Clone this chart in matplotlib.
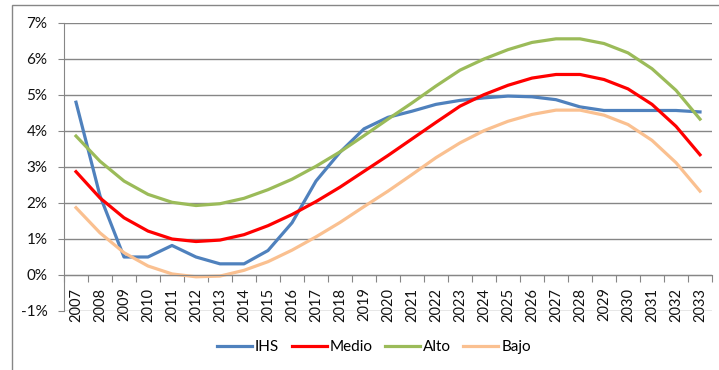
import matplotlib.pyplot as plt
from matplotlib.patches import Rectangle

# Series (growth rates in %)
anios = [str(a) for a in range(2007, 2034)]

ihs = [4.80, 2.20, 0.50, 0.50, 0.82, 0.50, 0.31, 0.31, 0.68, 1.45, 2.61, 3.41, 4.06, 4.38,
       4.55, 4.74, 4.85, 4.92, 4.97, 4.95, 4.87, 4.67, 4.57, 4.57, 4.57, 4.57, 4.53]
medio = [2.87, 2.14, 1.59, 1.22, 1.00, 0.93, 0.97, 1.12, 1.37, 1.68, 2.04, 2.44, 2.88, 3.32,
         3.78, 4.24, 4.69, 5.01, 5.27, 5.47, 5.57, 5.57, 5.43, 5.17, 4.74, 4.13, 3.34]
alto = [3.86, 3.16, 2.61, 2.24, 2.02, 1.93, 1.98, 2.13, 2.37, 2.66, 3.02, 3.42, 3.87, 4.33,
        4.78, 5.25, 5.69, 6.00, 6.26, 6.46, 6.56, 6.56, 6.43, 6.17, 5.73, 5.13, 4.33]
bajo = [1.87, 1.17, 0.62, 0.25, 0.03, -0.05, -0.03, 0.13, 0.37, 0.69, 1.06, 1.46, 1.90, 2.33,
        2.79, 3.26, 3.67, 4.01, 4.27, 4.46, 4.58, 4.58, 4.44, 4.18, 3.74, 3.12, 2.33]

series = [("IHS", ihs, "#4F81BD"),
          ("Medio", medio, "#FF0000"),
          ("Alto", alto, "#9BBB59"),
          ("Bajo", bajo, "#FAC090")]

plt.rcParams['font.family'] = ['Lato', 'DejaVu Sans']
gris = "#868686"
texto = "#111111"

fig = plt.figure(figsize=(7.19, 3.70), dpi=100)
ax = fig.add_axes([64 / 719, 1 - 311 / 370, 648 / 719, 288 / 370])

x = list(range(len(anios)))
for nombre, valores, color in series:
    ax.plot(x, valores, color=color, lw=2.3, label=nombre, solid_joinstyle='round')

ax.set_xlim(-0.5, len(anios) - 0.5)
ax.set_ylim(-1, 7)

# eje y
ax.set_yticks(range(-1, 8))
ax.set_yticklabels([f"{v}%" for v in range(-1, 8)], fontsize=11, color=texto)
ax.grid(axis='y', color=gris, lw=1)
ax.set_axisbelow(True)
ax.tick_params(axis='y', length=4, color=gris, pad=8)

# eje x cruzando en 0%
ax.spines['bottom'].set_position(('data', 0))
ax.spines['bottom'].set_color(gris)
ax.spines['left'].set_color(gris)
ax.spines['top'].set_visible(False)
ax.spines['right'].set_visible(False)
ax.set_xticks([i - 0.5 for i in range(len(anios) + 1)])
ax.set_xticklabels([])
ax.tick_params(axis='x', which='major', length=5, color=gris, direction='out')
ax.set_xticks(x, minor=True)
ax.set_xticklabels(anios, minor=True, rotation=90, fontsize=10.5, color=texto)
ax.tick_params(axis='x', which='minor', length=0, pad=9)

ax.legend(loc='center', bbox_to_anchor=(374 / 719, 1 - 347 / 370),
          bbox_transform=fig.transFigure, ncol=4, frameon=False, fontsize=11,
          handlelength=2.3, handletextpad=0.2, columnspacing=0.8)

# marco exterior
fig.add_artist(Rectangle((12 / 719, -0.1), 1.2, 1 - 5 / 370 + 0.1, fill=False,
                         edgecolor=gris, lw=1, transform=fig.transFigure, clip_on=False))

fig.savefig("out.png", dpi=100)
